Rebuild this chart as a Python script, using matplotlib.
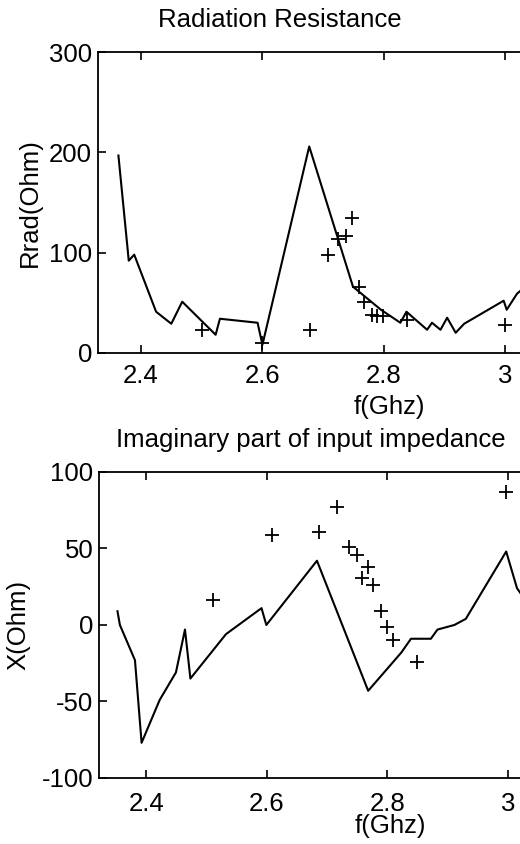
import matplotlib

matplotlib.use("Agg")

import matplotlib.pyplot as plt

plt.rcParams["font.family"] = ["Liberation Sans", "DejaVu Sans"]
plt.rcParams["axes.unicode_minus"] = False

# Radiation resistance: simulated line and measured points
rrad_f = [2.363, 2.380, 2.389, 2.425, 2.450, 2.468, 2.523, 2.530, 2.592, 2.600,
          2.677, 2.749, 2.795, 2.827, 2.837, 2.871, 2.879, 2.893, 2.904, 2.918,
          2.932, 2.997, 3.002, 3.019, 3.04]
rrad_r = [197, 92, 98, 41, 29, 51, 18, 34, 30, 8,
          206, 66, 43, 30, 41, 23, 30, 23, 35, 20,
          29, 52, 43, 59, 70]
rrad_meas_f = [2.500, 2.600, 2.679, 2.708, 2.724, 2.737, 2.748, 2.759, 2.767,
               2.781, 2.789, 2.799, 2.838, 3.000]
rrad_meas_r = [23, 10, 23, 98, 114, 117, 135, 66, 51, 38, 37, 37, 33, 28]

# Imaginary part of input impedance
x_f = [2.352, 2.356, 2.381, 2.392, 2.422, 2.449, 2.464, 2.473, 2.532, 2.591,
       2.599, 2.683, 2.768, 2.823, 2.839, 2.872, 2.883, 2.911, 2.930, 2.997,
       3.015, 3.04]
x_x = [9, 0, -23, -77, -49, -31, -3, -35, -6, 11,
       0, 42, -43, -18, -9, -9, -3, 0, 4, 48,
       24, 10]
x_meas_f = [2.510, 2.609, 2.687, 2.716, 2.736, 2.749, 2.768, 2.757, 2.776,
            2.790, 2.799, 2.810, 2.849, 2.997]
x_meas_x = [16, 59, 61, 77, 51, 46, 38, 31, 26, 9, -1, -10, -24, 87]

FS = 18.5
fig = plt.figure(figsize=(5.2, 8.44), dpi=100)


def style(ax, xpad):
    ax.tick_params(direction="in", top=True, right=True, labelsize=FS, length=6, width=1.2)
    ax.tick_params(axis="x", pad=xpad)
    ax.tick_params(axis="y", pad=4)
    for sp in ax.spines.values():
        sp.set_linewidth(1.3)


ax1 = fig.add_axes([0.188, 0.582, 1.123, 0.356])
ax1.plot(rrad_f, rrad_r, color="black", lw=1.5)
ax1.plot(rrad_meas_f, rrad_meas_r, "+", color="black", ms=10, mew=1.3)
ax1.set_xlim(2.329, 3.29)
ax1.set_ylim(0, 300)
ax1.set_xticks([2.4, 2.6, 2.8, 3.0])
ax1.set_xticklabels(["2.4", "2.6", "2.8", "3"])
ax1.set_yticks([0, 100, 200, 300])
ax1.set_xlabel("f(Ghz)", fontsize=FS, labelpad=5)
ax1.set_ylabel("Rrad(Ohm)", fontsize=FS, labelpad=5)
ax1.set_title("Radiation Resistance", fontsize=FS, pad=18, x=0.312)
style(ax1, 8)

ax2 = fig.add_axes([0.190, 0.0782, 1.123, 0.3626])
ax2.plot(x_f, x_x, color="black", lw=1.5)
ax2.plot(x_meas_f, x_meas_x, "+", color="black", ms=10, mew=1.3)
ax2.set_xlim(2.321, 3.29)
ax2.set_ylim(-100, 100)
ax2.set_xticks([2.4, 2.6, 2.8, 3.0])
ax2.set_xticklabels(["2.4", "2.6", "2.8", "3"])
ax2.set_yticks([-100, -50, 0, 50, 100])
ax2.set_xlabel("f(Ghz)", fontsize=FS, labelpad=-1)
ax2.set_ylabel("X(Ohm)", fontsize=FS, labelpad=8)
ax2.set_title("Imaginary part of input impedance", fontsize=FS, pad=18, x=0.363)
style(ax2, 10)

fig.savefig("out.png", dpi=100)
